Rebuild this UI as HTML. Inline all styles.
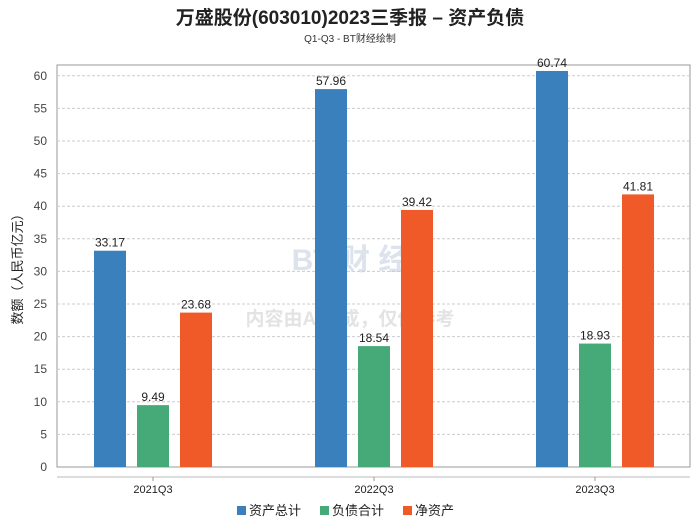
<!DOCTYPE html>
<html><head><meta charset="utf-8"><style>
body{margin:0;background:#fff;font-family:"Liberation Sans","Noto Sans CJK SC",sans-serif;}
svg text{font-family:"Liberation Sans","Noto Sans CJK SC",sans-serif;}
</style></head><body>
<svg width="700" height="524">
<text x="350" y="24" text-anchor="middle" font-size="19" font-weight="bold" fill="#222">万盛股份(603010)2023三季报 – 资产负债</text>
<text x="350" y="42" text-anchor="middle" font-size="10" fill="#333">Q1-Q3 - BT财经绘制</text>
<rect x="57" y="65" width="633" height="402" fill="none" stroke="#999"/>
<line x1="57" y1="477" x2="690" y2="477" stroke="#bbb"/>
<text transform="translate(22,266) rotate(-90)" text-anchor="middle" font-size="13" fill="#222">数额（人民币亿元）</text>
<text x="350" y="270" text-anchor="middle" font-size="30" fill="#dde3ec" font-weight="bold">BT 财 经</text>
<text x="350" y="325" text-anchor="middle" font-size="19" fill="#e3e3e3" font-weight="bold">内容由AI生成，仅供参考</text>
<g id="grid"></g><g id="bars"></g><g id="xl"></g>
<g>
<rect x="237" y="506" width="9" height="9" fill="#3a80bd"/>
<text x="249" y="515" font-size="13" fill="#222">资产总计</text>
<rect x="320" y="506" width="9" height="9" fill="#45aa78"/>
<text x="332" y="515" font-size="13" fill="#222">负债合计</text>
<rect x="403" y="506" width="9" height="9" fill="#f05a28"/>
<text x="415" y="515" font-size="13" fill="#222">净资产</text>
</g>
</svg>
<script>
const categories=["2021Q3","2022Q3","2023Q3"];
const assets=[33.17,57.96,60.74];
const liabilities=[9.49,18.54,18.93];
const equity=[23.68,39.42,41.81];
const yTicks=[0,5,10,15,20,25,30,35,40,45,50,55,60];
const NS="http://www.w3.org/2000/svg";
const y=v=>467-v*6.52;
const cx=i=>153+i*221;
function mk(t,a,p){const e=document.createElementNS(NS,t);for(const k in a)e.setAttribute(k,a[k]);p.appendChild(e);return e;}
const g=document.getElementById('grid');
yTicks.forEach(t=>{
 if(t>0){const l=mk('line',{x1:57,x2:690,y1:y(t),y2:y(t),stroke:'#ccc','stroke-dasharray':'3,2'},g);
 
 }
 const tx=mk('text',{x:47,y:y(t)+4,'text-anchor':'end','font-size':12,fill:'#444'},g);tx.textContent=t;
 
 
});
const b=document.getElementById('bars');
const series=[[assets,'#3a80bd',-43,'bar-assets'],[liabilities,'#45aa78',0,'bar-liabilities'],[equity,'#f05a28',43,'bar-equity']];
categories.forEach((c,i)=>{
 series.forEach(([d,col,off,nm])=>{
  const x=cx(i)+off-16;
  const r=mk('rect',{x:x,y:y(d[i]),width:32,height:467-y(d[i]),fill:col},b);
  
  
  const t=mk('text',{x:x+16,y:y(d[i])-4,'text-anchor':'middle','font-size':12,fill:'#222'},b);t.textContent=d[i].toFixed(2);
  
  
 });
 const xl=document.getElementById('xl');
 mk('line',{x1:cx(i),x2:cx(i),y1:477,y2:481,stroke:'#999'},xl);
 const t=mk('text',{x:cx(i),y:493,'text-anchor':'middle','font-size':11,fill:'#222'},xl);t.textContent=c;
 
 
});
</script>
</body></html>
